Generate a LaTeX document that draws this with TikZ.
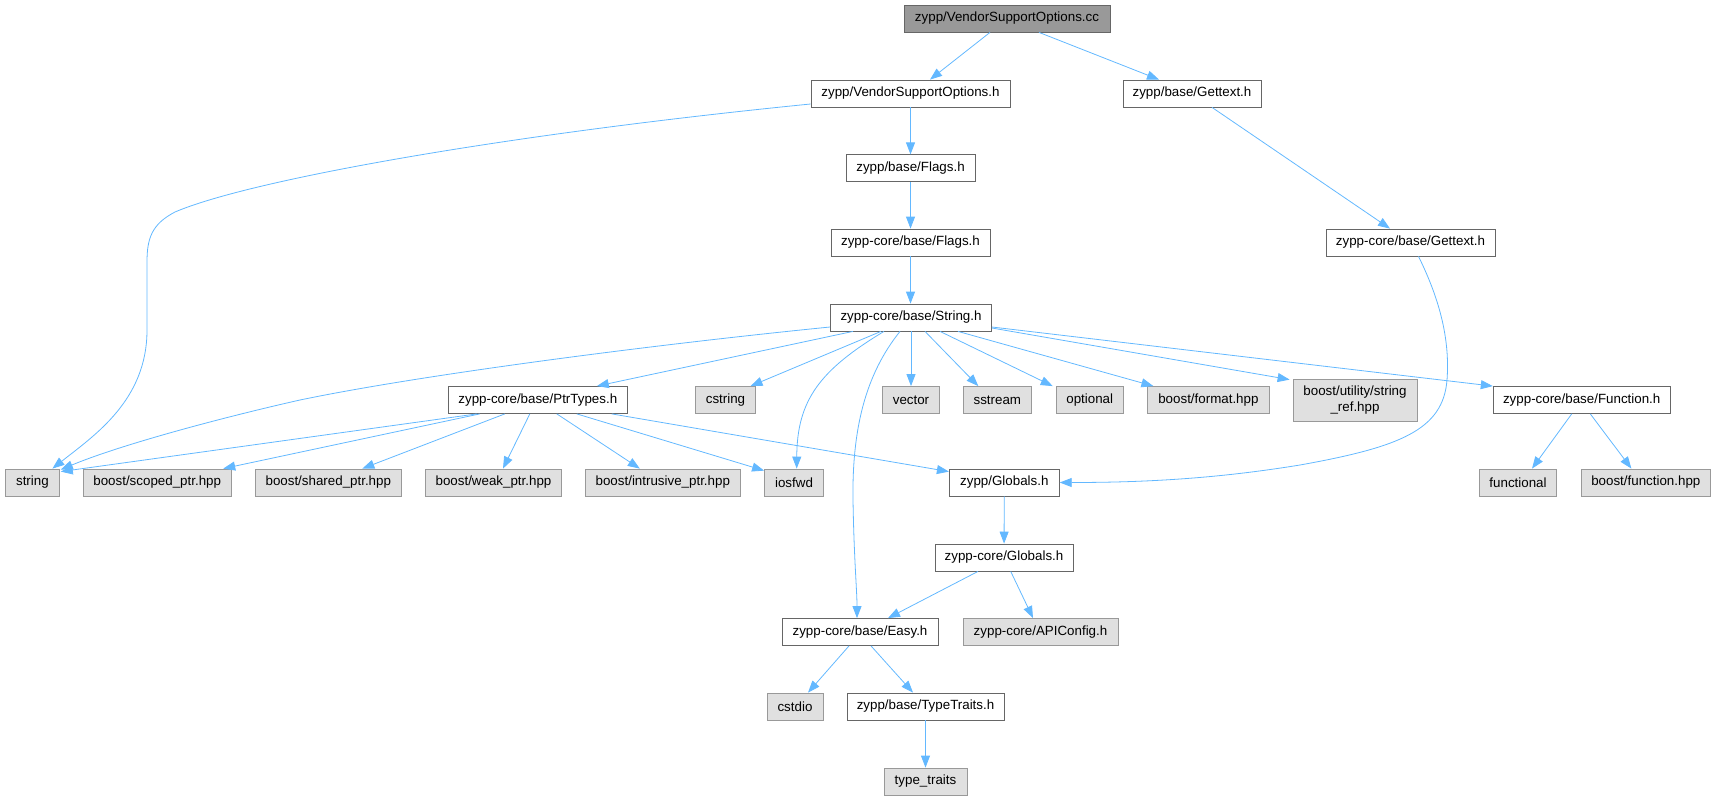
\documentclass[tikz,border=0pt]{standalone}
\usepackage{fontspec}
\newfontfamily\dfont{Liberation Sans}
\usetikzlibrary{arrows.meta}
\definecolor{cSix}{HTML}{666666}
\definecolor{cNine}{HTML}{999999}
\definecolor{cExt}{HTML}{E0E0E0}
\definecolor{eblue}{HTML}{63B8FF}
\tikzset{
  nd/.style={draw=cSix, fill=white, line width=0.8pt, inner sep=0pt, minimum height=27pt,
             font=\dfont\fontsize{13.35}{16}\selectfont, text=black},
  ext/.style={nd, draw=cNine, fill=cExt},
  rootnd/.style={nd, draw=cSix, fill=cNine},
  edge/.style={draw=eblue, line width=0.8pt, -{Triangle[length=12pt,width=9pt]}},
}
\begin{document}
\begin{tikzpicture}[x=1pt,y=-1pt]
\useasboundingbox (0,0) rectangle (1715,800);
% nodes
\node[rootnd, minimum width=206pt] (cc) at (1007,18.5) {zypp/VendorSupportOptions.cc};
\node[nd, minimum width=199pt] (vsoh) at (910.5,93.5) {zypp/VendorSupportOptions.h};
\node[nd, minimum width=138pt] (gett) at (1192,93.5) {zypp/base/Gettext.h};
\node[nd, minimum width=129pt] (flags) at (910.5,168.3) {zypp/base/Flags.h};
\node[nd, minimum width=159pt] (cflags) at (910.5,242.5) {zypp-core/base/Flags.h};
\node[nd, minimum width=169pt] (cgett) at (1410.5,242.5) {zypp-core/base/Gettext.h};
\node[nd, minimum width=161pt] (str) at (911,317.5) {zypp-core/base/String.h};
\node[nd, minimum width=179.5pt] (ptr) at (537.8,400) {zypp-core/base/PtrTypes.h};
\node[ext, minimum width=60pt] (cstring) at (725.5,400) {cstring};
\node[ext, minimum width=57pt] (vector) at (911,400) {vector};
\node[ext, minimum width=68.5pt] (sstream) at (997.3,400) {sstream};
\node[ext, minimum width=67pt] (optional) at (1089.7,400) {optional};
\node[ext, minimum width=122pt] (format) at (1208.4,400) {boost/format.hpp};
\node[ext, minimum width=124pt, minimum height=42pt, align=center] (strref) at (1355,400) {boost/utility/string\\\_ref.hpp};
\node[nd, minimum width=177pt] (func) at (1581.7,400) {zypp-core/base/Function.h};
\node[ext, minimum width=54pt] (string) at (32.4,482.5) {string};
\node[ext, minimum width=148pt] (scoped) at (157.2,482.5) {boost/scoped\_ptr.hpp};
\node[ext, minimum width=146pt] (shared) at (328.3,482.5) {boost/shared\_ptr.hpp};
\node[ext, minimum width=136pt] (weak) at (493.5,482.5) {boost/weak\_ptr.hpp};
\node[ext, minimum width=154.5pt] (intr) at (662.8,482.5) {boost/intrusive\_ptr.hpp};
\node[ext, minimum width=59pt] (iosfwd) at (794,482.5) {iosfwd};
\node[nd, minimum width=110pt] (glob) at (1004.3,482.5) {zypp/Globals.h};
\node[ext, minimum width=77.4pt] (functional) at (1518,482.5) {functional};
\node[ext, minimum width=129.5pt] (bfunc) at (1645.8,482.5) {boost/function.hpp};
\node[nd, minimum width=138pt] (cglob) at (1004,557.5) {zypp-core/Globals.h};
\node[nd, minimum width=156pt] (easy) at (860,632) {zypp-core/base/Easy.h};
\node[ext, minimum width=155pt] (api) at (1040.5,632) {zypp-core/APIConfig.h};
\node[ext, minimum width=56pt] (cstdio) at (795,706.5) {cstdio};
\node[nd, minimum width=157pt] (tt) at (925.5,706.5) {zypp/base/TypeTraits.h};
\node[ext, minimum width=83pt] (ttraits) at (925.5,781.5) {type\_traits};
% edges
\draw[edge] ([xshift=-17pt]cc.south) -- ([xshift=19.5pt]vsoh.north);
\draw[edge] ([xshift=32pt]cc.south) -- ([xshift=-33pt]gett.north);
\draw[edge] ([yshift=-10.5pt]vsoh.west) .. controls (500,135) and (250,180) .. (175,212)
   .. controls (152,224) and (147,238) .. (147,262) -- (147,330)
   .. controls (147,400) and (95,435) .. ([xshift=20pt]string.north);
\draw[edge] (vsoh) -- (flags);
\draw[edge] (flags) -- (cflags);
\draw[edge] (cflags.south) -- (cflags.south |- str.north);
\draw[edge] ([xshift=20pt]gett.south) -- ([xshift=-20.5pt]cgett.north);
\draw[edge] ([xshift=8pt]cgett.south) .. controls (1440,300) and (1450,340) .. (1447,380)
   .. controls (1443,430) and (1400,447) .. (1300,465)
   .. controls (1220,478) and (1150,482.5) .. (glob.east);
\draw[edge] ([yshift=-9.5pt]str.west) .. controls (650,345) and (420,375) .. (300,400)
   .. controls (220,418) and (120,445) .. ([xshift=1pt,yshift=-1pt]string.north east);
\draw[edge] ([xshift=-58pt]str.south) -- ([xshift=59pt]ptr.north);
\draw[edge] ([xshift=-30pt]str.south) -- ([xshift=25pt]cstring.north);
\draw[edge] ([xshift=-27pt]str.south) .. controls (820,370) and (797,400) .. ([xshift=2.7pt]iosfwd.north);
\draw[edge] ([xshift=-11pt]str.south) .. controls (865,375) and (852,430) .. (853,500)
   .. controls (854,560) and (857,590) .. ([xshift=-3pt]easy.north);
\draw[edge] (str) -- (vector);
\draw[edge] ([xshift=14pt]str.south) -- ([xshift=-19pt]sstream.north);
\draw[edge] ([xshift=29pt]str.south) -- ([xshift=-37pt]optional.north);
\draw[edge] ([xshift=47pt]str.south) -- ([xshift=-55pt]format.north);
\draw[edge] ([yshift=-10.5pt]str.east) -- ([xshift=-3pt,yshift=-1pt]strref.north west);
\draw[edge] ([yshift=-9.5pt]str.east) -- (func.north west);
\draw[edge] ([xshift=-61pt]ptr.south) -- ([xshift=1pt,yshift=-3pt]string.north east);
\draw[edge] ([xshift=-58pt]ptr.south) -- ([xshift=66pt]scoped.north);
\draw[edge] ([xshift=-33pt]ptr.south) -- ([xshift=34pt]shared.north);
\draw[edge] ([xshift=-8pt]ptr.south) -- ([xshift=9.5pt]weak.north);
\draw[edge] ([xshift=19pt]ptr.south) -- ([xshift=-23pt]intr.north);
\draw[edge] ([xshift=39pt]ptr.south) -- ([yshift=-2pt]iosfwd.north west);
\draw[edge] ([xshift=74pt]ptr.south) -- ([yshift=-3pt]glob.north west);
\draw[edge] ([xshift=-10pt]func.south) -- ([xshift=14pt]functional.north);
\draw[edge] ([xshift=8.6pt]func.south) -- ([xshift=-14.4pt]bfunc.north);
\draw[edge] (glob) -- (cglob);
\draw[edge] ([xshift=-26pt]cglob.south) -- ([xshift=28pt]easy.north);
\draw[edge] ([xshift=6.7pt]cglob.south) -- ([xshift=-7.5pt]api.north);
\draw[edge] ([xshift=-11pt]easy.south) -- ([xshift=13pt]cstdio.north);
\draw[edge] ([xshift=11pt]easy.south) -- ([xshift=-12.5pt]tt.north);
\draw[edge] (tt) -- (ttraits);
\end{tikzpicture}
\end{document}
